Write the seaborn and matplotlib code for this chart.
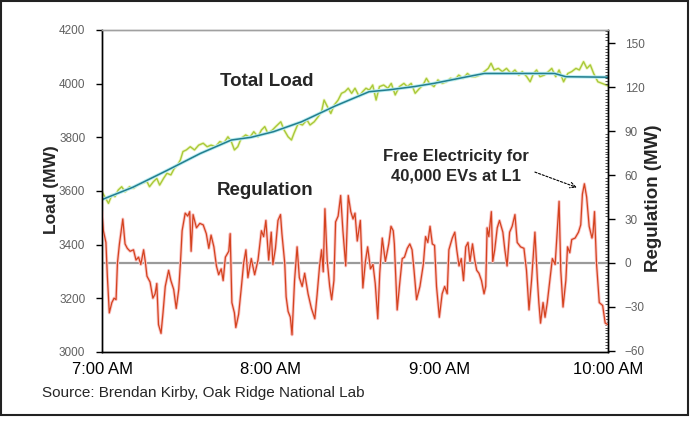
import numpy as np
import pandas as pd
import matplotlib
matplotlib.use("Agg")
import matplotlib.pyplot as plt
import seaborn as sns
from matplotlib.patches import Rectangle
from matplotlib.ticker import MultipleLocator

# Data (minutes after 7:00 AM)
load_min = [0, 2.3, 3.5, 4.6, 5.8, 7, 8.2, 9.8, 11.2, 12.6, 14.2, 16, 16.9, 18.3, 19.5, 20.5, 21.9, 23.1,
            24.5, 25.7, 26.9, 27.9, 28.8, 30, 31.4, 32.9, 34.4, 36, 37.4, 38.8, 40.4, 41.9, 43.3, 44.8,
            46, 47.1, 48.3, 49.5, 51.1, 52.6, 54, 55.5, 56.7, 57.9, 59, 60.6, 61.8, 63.6, 64.8, 66.2,
            67.4, 68.3, 69.8, 71.3, 72.9, 74, 75.5, 76.9, 78.1, 79, 80.2, 81.4, 82.6, 84, 85.2, 86.4,
            87.6, 88.8, 90, 91.5, 92.7, 93.9, 95.1, 96.3, 97.5, 98.7, 100.2, 101.7, 102.9, 104.3, 105.8,
            107.4, 108.6, 110, 111.4, 113, 114.2, 115.4, 116.5, 118.1, 119.5, 121, 122.5, 124, 125.5,
            126.9, 128.5, 130, 131.4, 132.9, 134.4, 136, 137.4, 138.4, 139.5, 141, 142.4, 143.9, 145.5,
            146.9, 148.3, 149.5, 151.1, 152.3, 153.5, 154.6, 155.8, 157.4, 158.8, 160, 161.4, 162.6,
            164.2, 165.7, 167.1, 168.6, 169.8, 171.3, 172.5, 173.7, 174.9, 176.4, 177.9, 180]
load_mw = [3597, 3554, 3585, 3579, 3604, 3616, 3597, 3616, 3610, 3622, 3629, 3635, 3616, 3635, 3647, 3622,
           3647, 3666, 3660, 3684, 3697, 3716, 3747, 3753, 3765, 3753, 3771, 3778, 3765, 3771, 3765, 3784,
           3778, 3802, 3784, 3753, 3765, 3796, 3809, 3800, 3821, 3802, 3827, 3840, 3815, 3827, 3840, 3858,
           3827, 3802, 3790, 3815, 3852, 3846, 3865, 3846, 3858, 3877, 3896, 3939, 3914, 3889, 3920, 3939,
           3964, 3970, 3983, 3964, 3983, 3952, 3970, 3983, 3976, 3995, 3939, 3989, 3995, 3983, 4001, 3958,
           3989, 4001, 3989, 4001, 3964, 3983, 3995, 4020, 4001, 3989, 4014, 4001, 4007, 4020, 4014, 4032,
           4020, 4038, 4026, 4026, 4032, 4045, 4057, 4076, 4051, 4057, 4045, 4057, 4038, 4051, 4032, 4045,
           4026, 4007, 4038, 4051, 4026, 4032, 4045, 4057, 4026, 4051, 4007, 4038, 4045, 4057, 4051, 4082,
           4057, 4070, 4038, 4007, 4001, 3992]

trend_min = [0, 11, 23, 35, 46, 53, 61, 71, 83, 95, 102, 111, 118, 130, 136, 161, 165, 180]
trend_mw = [3568, 3614, 3676, 3740, 3790, 3800, 3821, 3858, 3917, 3970, 3977, 3989, 4001, 4026, 4038,
            4038, 4026, 4024]

reg_min = [0, 0.5, 1.4, 1.9, 2.6, 3.5, 4.3, 5, 5.5, 6.2, 7.4, 8.2, 9, 10, 11.2, 12.1, 13, 13.8, 14.8,
           15.4, 16, 17.1, 18.1, 18.9, 19.5, 20.1, 21, 21.7, 22.5, 23.7, 24.5, 25.5, 26.4, 27.3, 27.9,
           28.5, 29.6, 30.5, 31.2, 31.7, 32.4, 33.6, 34.8, 36, 37.1, 38, 38.8, 39.8, 40.7, 41.5, 42.4,
           43.1, 43.9, 45.1, 45.6, 46.2, 47.1, 47.6, 48.6, 49.5, 50.4, 51.2, 51.9, 53.1, 54.3, 55.5,
           56.7, 57.5, 58.3, 59.3, 60.2, 60.8, 61.7, 62.6, 63.5, 64, 65, 65.5, 66.2, 67, 67.6, 68.5,
           69.4, 70.2, 71.2, 72.1, 73.3, 74.5, 75.7, 76.5, 77.4, 78.1, 78.7, 79.3, 80.1, 81, 81.7,
           82.5, 83.1, 84, 84.9, 85.7, 86.7, 87.6, 88.5, 89.3, 90, 90.8, 91.9, 92.8, 93.7, 94.5, 95.5,
           96.4, 97.2, 98.1, 98.8, 99.7, 100.8, 102, 102.8, 103.6, 104, 105, 105.9, 106.8, 107.6,
           108.6, 109.5, 110.3, 111, 111.9, 113.1, 114.3, 115.1, 115.9, 116.7, 117.5, 118.3, 119, 120,
           121, 121.9, 122.8, 123.4, 124.6, 125.5, 126.2, 127, 127.8, 128.6, 129.4, 130.2, 130.9,
           131.8, 132.6, 133.3, 134.1, 135, 135.9, 136.5, 137, 137.6, 138.5, 139, 139.7, 140.6, 141.4,
           142.6, 143.3, 144.1, 145, 145.9, 146.9, 147.7, 148.9, 150.1, 151, 151.9, 152.8, 153.3, 154,
           154.9, 155.4, 156, 156.9, 157.6, 158.4, 159.3, 160.2, 161.2, 162, 162.6, 163.2, 164, 165,
           165.6, 166.4, 167.1, 168.3, 169.5, 170.3, 170.9, 171.6, 172.4, 173.3, 174.3, 174.7, 175.2,
           175.9, 176.9, 178.1, 179, 180]
reg_mw = [35, 22, 14, -9, -34, -27, -24, -25, 0, 13, 30, 13, 10, 8, 9, 2, 4, -1, 9,
          1, -9, -13, -24, -21, -14, -42, -48, -34, -16, -5, -12, -18, -31, -18, 0,
          22, 34, 32, 35, 8, 33, 24, 27, 26, 20, 10, 19, 11, -2, -8, -4,
          -12, 4, 8, 20, -27, -34, -44, -35, -18, 0, 9, -10, 3, -8, 2,
          22, 18, 29, 2, 21, -1, 10, 29, 33, 20, 0, -23, -33, -37, -49, -12,
          11, -10, -16, -7, -21, -31, -38, -22, -2, 9, -6, 37, 2, -16, -25,
          -12, 28, 32, 46, 22, -2, 46, 35, 30, 34, 15, 29, -17, 1, 11, -4,
          -1, -14, -38, -7, 17, 1, 13, 25, 22, 13, -32, -14, 3, 4,
          10, 13, 9, -5, -25, -16, -1, 18, 14, 25, 13, 12, -16, -37,
          -21, -16, -21, 9, 17, 21, 9, -2, 3, -12, 11, 14, 1,
          13, 2, -5, -7, -12, -21, -16, 24, 18, 35, 1, 9, 24, 29,
          21, 9, -2, 21, 25, 33, 14, 11, 10, -5, -32, -12, 2, 21,
          -12, -27, -41, -27, -37, -27, -12, 3, -1, 24, 42, -5, -30, -12,
          11, 7, 16, 17, 21, 26, 47, 54, 45, 25, 17, 21, 35,
          0, -27, -29, -41, -42]

time_ticks = [0, 60, 120, 180]
time_labels = ["7:00 AM", "8:00 AM", "9:00 AM", "10:00 AM"]

load = pd.DataFrame({"min": load_min, "mw": load_mw})
trend = pd.DataFrame({"min": trend_min, "mw": trend_mw})
reg = pd.DataFrame({"min": reg_min, "mw": reg_mw})

sns.set_style("white")
plt.rcParams["font.family"] = ["Liberation Sans", "DejaVu Sans"]

fig = plt.figure(figsize=(6.9, 4.22), dpi=100)
ax = fig.add_axes([102 / 690, 70 / 422, 506 / 690, 322 / 422])
ax2 = ax.twinx()

# Total load
sns.lineplot(data=load, x="min", y="mw", ax=ax, color="#eef6c4", linewidth=2.2,
             estimator=None, sort=False, legend=False)
sns.lineplot(data=load, x="min", y="mw", ax=ax, color="#a9c93a", linewidth=1.0,
             estimator=None, sort=False, legend=False)
sns.lineplot(data=trend, x="min", y="mw", ax=ax, color="#b8ecf2", linewidth=2.4,
             estimator=None, sort=False, legend=False)
sns.lineplot(data=trend, x="min", y="mw", ax=ax, color="#237e8e", linewidth=1.1,
             estimator=None, sort=False, legend=False)

# Regulation
ax2.axhline(0, color="#9a9a9a", linewidth=1.6, zorder=1)
sns.lineplot(data=reg, x="min", y="mw", ax=ax2, color="#fac4c4", linewidth=2.2,
             estimator=None, sort=False, legend=False)
sns.lineplot(data=reg, x="min", y="mw", ax=ax2, color="#d4431f", linewidth=0.9,
             estimator=None, sort=False, legend=False)

ax.set_xlim(0, 180)
ax.set_ylim(3000, 4200)
ax2.set_ylim(-60.7, 158.9)

ax.set_xticks(time_ticks)
ax.set_xticklabels(time_labels, fontsize=12)
ax.xaxis.set_minor_locator(MultipleLocator(1))
ax.set_yticks(range(3000, 4201, 200))
ax2.set_yticks(range(-60, 151, 30))
ax2.yaxis.set_minor_locator(MultipleLocator(2))

ax.tick_params(axis="x", which="major", direction="inout", length=7, width=1, pad=4, colors="black")
ax.tick_params(axis="x", which="minor", direction="in", length=2, width=0.6, color="#333333")
ax.tick_params(axis="y", which="major", direction="out", length=4, width=1, pad=8,
               labelsize=8.5, labelcolor="#606060", color="black")
ax2.tick_params(axis="y", which="major", direction="out", length=5, width=1, pad=7,
                labelsize=8.5, labelcolor="#606060", color="black")
ax2.tick_params(axis="y", which="minor", direction="in", length=2, width=0.6, color="#333333")

for a in (ax, ax2):
    for side in ("left", "bottom", "right"):
        a.spines[side].set_color("black")
        a.spines[side].set_linewidth(1.0)
    a.spines["top"].set_color("#a0a0a0")
    a.spines["top"].set_linewidth(1.0)
    a.set_xlabel("")

ax.set_ylabel("Load (MW)", fontsize=12.5, fontweight="bold")
ax2.set_ylabel("Regulation (MW)", fontsize=13.5, fontweight="bold", rotation=90)
ax.yaxis.set_label_coords(-43 / 506, (352 - 190) / 322)
ax2.yaxis.set_label_coords(1 + 37 / 506, (352 - 198) / 322)

ax.text(0.325, (352 - 82) / 322, "Total Load", transform=ax.transAxes, ha="center", va="center",
        fontsize=13.5, fontweight="bold")
ax.text(0.323, (352 - 190) / 322, "Regulation", transform=ax.transAxes, ha="center", va="center",
        fontsize=13.5, fontweight="bold")
ax2.text(126, 66, "Free Electricity for\n40,000 EVs at L1", ha="center", va="center",
         fontsize=12, fontweight="bold", linespacing=1.3, multialignment="center")
ax2.annotate("", xy=(168.9, 51.5), xytext=(154, 62),
             arrowprops=dict(arrowstyle="->", color="black", lw=0.8, linestyle=(0, (2, 1.5)),
                             shrinkA=0, shrinkB=0))

fig.text(42 / 690, 1 - 393 / 422, "Source: Brendan Kirby, Oak Ridge National Lab",
         ha="left", va="center", fontsize=11)

fig.patches.append(Rectangle((1 / 690, 7 / 422), 687 / 690, 414 / 422, transform=fig.transFigure,
                             fill=False, edgecolor="#222222", linewidth=1.5))

fig.savefig("out.png", dpi=100)
